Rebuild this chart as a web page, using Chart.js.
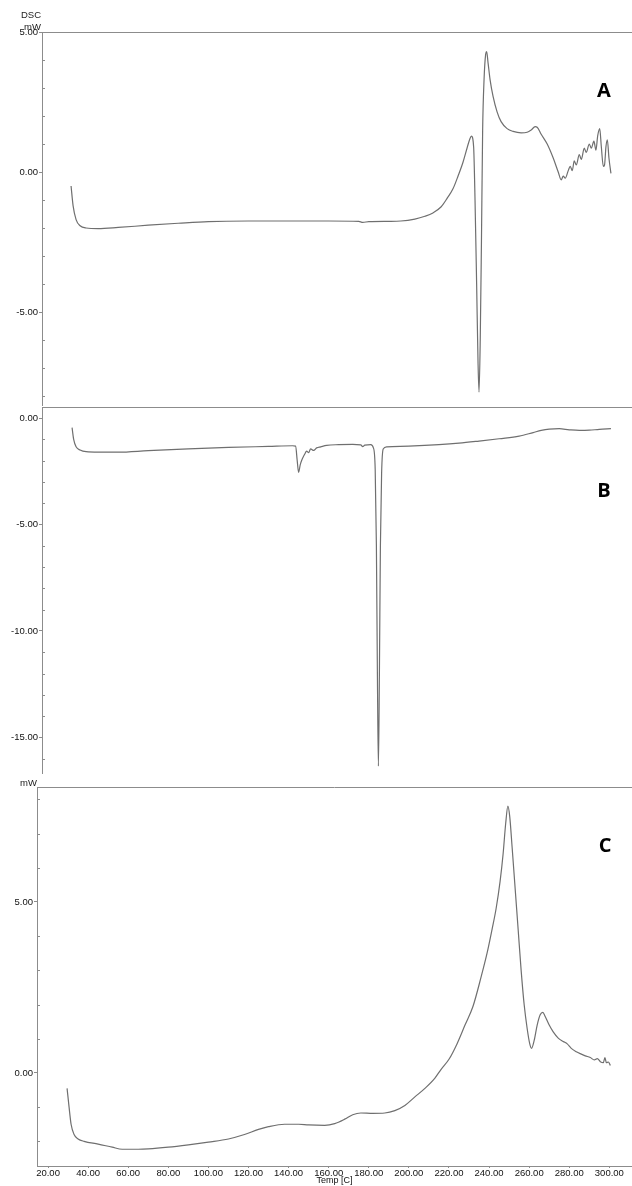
<!DOCTYPE html>
<html>
<head>
<meta charset="utf-8">
<script src="https://cdn.jsdelivr.net/npm/chart.js@4.4.1/dist/chart.umd.min.js"></script>
<style>
  body { margin: 0; background: #fff; }
  #wrap { position: relative; width: 632px; height: 1186px; overflow: hidden; }
  canvas { position: absolute; left: 0; }
  .lbl { position: absolute; font: 9.5px "Liberation Sans", Arial, sans-serif; color: #222; text-align: right; line-height: 1; }
  .tag { position: absolute; font: 700 20px "Open Sans", sans-serif; color: #000; line-height: 1; transform: translate(-50%, -50%); }
</style>
</head>
<body>
<div id="wrap">
  <canvas id="chartA" width="632" height="406" style="top:0"></canvas>
  <canvas id="chartB" width="632" height="368" style="top:406px"></canvas>
  <canvas id="chartC" width="632" height="412" style="top:774px"></canvas>
  <div class="lbl" style="left:0;width:41px;top:10px">DSC</div>
  <div class="lbl" style="left:0;width:41px;top:22px">mW</div>
  <div class="lbl" style="left:0;width:37px;top:778px">mW</div>
  <div class="tag" style="left:604px;top:90px">A</div>
  <div class="tag" style="left:604px;top:490px">B</div>
  <div class="tag" style="left:605px;top:845px">C</div>
</div>
<script>
// temperatures (C) and heat flow (mW)
const tempA = [31.5, 32.5, 34, 36, 39, 45, 55, 70, 85, 100, 120, 140, 160, 175, 177, 180, 190, 196, 203, 208, 212, 216, 219, 222, 224.5, 227, 229, 230.5, 231.2, 232.3, 233.0, 233.8, 234.5, 235.0, 235.6, 236.2, 236.8, 237.5, 238.3, 238.8, 239.5, 240.5, 242, 244, 246, 249, 252, 256, 259, 261, 263, 264, 266, 269, 272, 274.5, 276, 277, 278, 279.5, 280.5, 281.5, 282.5, 283.5, 285, 286, 287.5, 288.5, 290, 291, 292.3, 293.3, 294.2, 295.2, 296, 297, 297.6, 298.3, 299, 299.8, 300.8];
const dscA  = [-0.5, -1.2, -1.7, -1.92, -2.0, -2.02, -1.98, -1.9, -1.83, -1.77, -1.75, -1.75, -1.75, -1.76, -1.8, -1.77, -1.76, -1.75, -1.68, -1.58, -1.46, -1.25, -0.95, -0.6, -0.15, 0.35, 0.85, 1.2, 1.28, 0.9, -1.0, -4.0, -6.8, -7.86, -6.0, -2.5, 1.5, 3.3, 4.2, 4.3, 3.9, 3.3, 2.7, 2.15, 1.8, 1.55, 1.45, 1.4, 1.42, 1.5, 1.62, 1.6, 1.35, 1.0, 0.5, 0.0, -0.28, -0.15, -0.22, 0.05, 0.2, 0.05, 0.4, 0.25, 0.62, 0.45, 0.85, 0.7, 1.0, 0.85, 1.1, 0.78, 1.3, 1.55, 0.9, 0.2, 0.25, 0.9, 1.15, 0.5, -0.05];

const tempB = [32, 32.8, 34, 36, 39, 45, 55, 70, 90, 110, 130, 142, 143.5, 144.3, 145, 145.8, 146.7, 148, 149, 150, 151, 152.5, 154, 156, 159, 165, 172, 176, 177, 178, 181, 182.3, 183.2, 183.8, 184.3, 184.8, 185.3, 185.8, 186.4, 187.2, 189, 200, 215, 225, 235, 245, 255, 262, 266, 270, 275, 280, 285, 290, 295, 300.8];
const dscB  = [-0.45, -1.0, -1.35, -1.5, -1.58, -1.6, -1.6, -1.53, -1.45, -1.38, -1.33, -1.3, -1.32, -2.0, -2.55, -2.2, -1.95, -1.7, -1.55, -1.62, -1.45, -1.52, -1.4, -1.35, -1.28, -1.25, -1.24, -1.26, -1.34, -1.27, -1.25, -1.4, -2.4, -6, -12, -16.35, -12, -6, -2.6, -1.45, -1.35, -1.32, -1.25, -1.18, -1.08, -0.97, -0.85, -0.68, -0.58, -0.52, -0.5, -0.55, -0.58, -0.57, -0.53, -0.5];

const tempC = [29.5, 30.5, 31.5, 33, 35, 38, 45, 52, 57, 65, 70, 80, 90, 100, 110, 118, 125, 130, 138, 145, 150, 158, 163, 168, 172, 176, 182, 188, 193, 198, 203, 208, 213, 216, 220, 224, 228, 232, 236, 239, 241.5, 243.5, 245.5, 247, 248.3, 249.4, 250.3, 251.5, 253, 254.5, 256, 257.5, 259, 260.3, 261.2, 262.5, 264, 265.5, 266.8, 268, 270, 272, 274.5, 277, 279, 281, 283.5, 286, 288, 290.5, 292.5, 294, 295.5, 297, 297.8, 298.5, 299.5, 300.5];
const dscC  = [-0.45, -1.0, -1.5, -1.8, -1.93, -2.0, -2.08, -2.17, -2.23, -2.23, -2.22, -2.17, -2.1, -2.02, -1.93, -1.8, -1.65, -1.57, -1.5, -1.5, -1.52, -1.53, -1.48, -1.35, -1.22, -1.17, -1.18, -1.17, -1.1, -0.95, -0.7, -0.45, -0.15, 0.1, 0.4, 0.85, 1.4, 1.95, 2.8, 3.5, 4.2, 4.8, 5.6, 6.4, 7.3, 7.8, 7.5, 6.6, 5.4, 4.2, 3.0, 2.0, 1.3, 0.85, 0.72, 0.95, 1.4, 1.7, 1.77, 1.65, 1.4, 1.2, 1.02, 0.92, 0.85, 0.72, 0.62, 0.55, 0.5, 0.45, 0.38, 0.42, 0.33, 0.3, 0.45, 0.3, 0.32, 0.22];

// tick labels
const tempTicks = [20, 40, 60, 80, 100, 120, 140, 160, 180, 200, 220, 240, 260, 280, 300];
const ticksA = [5, 0, -5];
const minorA = [4, 3, 2, 1, -1, -2, -3, -4, -6, -7, -8];
const ticksB = [0, -5, -10, -15];
const minorB = [-1, -2, -3, -4, -6, -7, -8, -9, -11, -12, -13, -14, -16];
const ticksC = [5, 0];
const minorC = [8, 7, 6, 4, 3, 2, 1, -1, -2];

const lineColor = '#6f6f6f';
const axisColor = '#8c8c8c';
const tickFont = { family: '"Liberation Sans", Arial, sans-serif', size: 9.5 };

// top frame line + small inward minor ticks on the y axis
const framePlugin = {
  id: 'frame',
  afterDraw(chart, args, opts) {
    const { ctx, chartArea: a, scales: { y } } = chart;
    ctx.save();
    ctx.strokeStyle = axisColor;
    ctx.lineWidth = 1;
    ctx.beginPath();
    ctx.moveTo(a.left, a.top + 0.5);
    ctx.lineTo(a.right, a.top + 0.5);
    (opts.minor || []).forEach(v => {
      const py = Math.round(y.getPixelForValue(v)) + 0.5;
      ctx.moveTo(a.left, py);
      ctx.lineTo(a.left + 3, py);
    });
    ctx.stroke();
    ctx.restore();
  }
};

function fmt(v) {
  return (Math.abs(v) < 1e-9 ? 0 : v).toFixed(2);
}

function makeChart(id, temps, vals, cfg) {
  const points = temps.map((t, i) => ({ x: t, y: vals[i] }));
  return new Chart(document.getElementById(id), {
    type: 'line',
    data: {
      datasets: [{
        data: points,
        borderColor: lineColor,
        borderWidth: 1.2,
        pointRadius: 0,
        cubicInterpolationMode: 'monotone',
        fill: false
      }]
    },
    options: {
      responsive: false,
      animation: false,
      devicePixelRatio: 1,
      layout: { padding: { top: cfg.padTop, bottom: cfg.padBottom, left: 0, right: 0 } },
      plugins: {
        legend: { display: false },
        tooltip: { enabled: false },
        frame: { minor: cfg.minor }
      },
      scales: {
        x: {
          type: 'linear',
          min: cfg.xMin,
          max: 311.3,
          display: cfg.showX,
          afterFit: s => {
            if (cfg.showX) s.height = 20;
            s.paddingLeft = 0;
            s.paddingRight = 0;
          },
          afterBuildTicks: s => { s.ticks = tempTicks.map(v => ({ value: v })); },
          ticks: { callback: v => fmt(v), font: tickFont, color: '#111', padding: 0, autoSkip: false, maxRotation: 0 },
          grid: { drawOnChartArea: false, tickLength: 2, tickColor: axisColor },
          border: { color: axisColor },
          title: { display: true, text: 'Temp [C]', font: { family: '"Liberation Sans", Arial, sans-serif', size: 9 }, color: '#111', padding: 0 }
        },
        y: {
          min: cfg.yMin,
          max: cfg.yMax,
          afterFit: s => {
            s.width = cfg.yWidth;
            s.paddingTop = 0;
            s.paddingBottom = 0;
          },
          afterBuildTicks: s => { s.ticks = cfg.ticks.map(v => ({ value: v })); },
          ticks: { callback: v => fmt(v), font: tickFont, color: '#111', padding: 1 },
          grid: { drawOnChartArea: false, tickLength: 3, tickColor: axisColor },
          border: { color: axisColor }
        }
      }
    },
    plugins: [framePlugin]
  });
}

makeChart('chartA', tempA, dscA, {
  padTop: 32, padBottom: 1, xMin: 17.0, showX: false, yWidth: 42,
  yMin: -8.32, yMax: 5.0, ticks: ticksA, minor: minorA
});
makeChart('chartB', tempB, dscB, {
  padTop: 1, padBottom: 1, xMin: 17.0, showX: false, yWidth: 42,
  yMin: -16.67, yMax: 0.52, ticks: ticksB, minor: minorB
});
makeChart('chartC', tempC, dscC, {
  padTop: 13, padBottom: 0, xMin: 14.5, showX: true, yWidth: 37,
  yMin: -2.72, yMax: 8.36, ticks: ticksC, minor: minorC
});
</script>
</body>
</html>
